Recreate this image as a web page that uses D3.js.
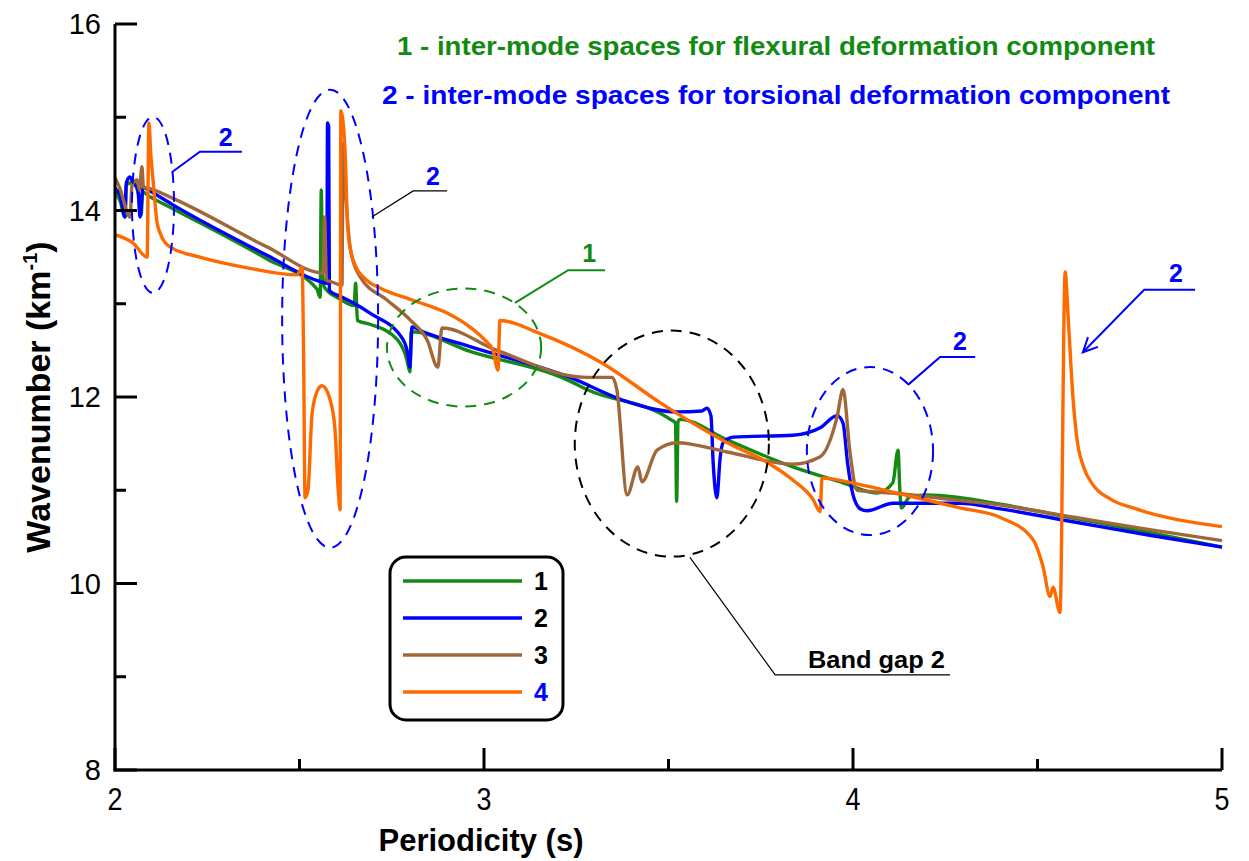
<!DOCTYPE html>
<html><head><meta charset="utf-8">
<script src="https://cdn.jsdelivr.net/npm/d3@7"></script>
<style>
html,body{margin:0;padding:0;background:#fff;}
svg{display:block;}
text{font-family:"Liberation Sans",Arial,sans-serif;}
</style></head>
<body>
<svg id="chart" width="1249" height="861"></svg>
<script>
// ---------- DATA (Periodicity s, Wavenumber km^-1) ----------
const seriesNames = ["1", "2", "3", "4"];
const seriesColors = ["#138a13", "#0000ff", "#a0683a", "#ff6a00"];
const xTicks = [2, 3, 4, 5];
const yTicks = [8, 10, 12, 14, 16];

const curve1 = [[2.000,14.20],[2.014,14.10],[2.027,13.93],[2.030,14.28],[2.050,14.30],[2.065,14.15],[2.071,13.95],[2.075,14.20],[2.090,14.16],[2.157,14.02],[2.412,13.48],[2.547,13.16],[2.556,13.07],[2.559,14.22],[2.562,13.4],[2.567,13.18],[2.610,13.05],[2.648,12.98],[2.652,13.22],[2.657,12.82],[2.691,12.78],[2.764,12.62],[2.791,12.40],[2.799,12.27],[2.803,12.70],[2.962,12.49],[3.233,12.17],[3.279,12.08],[3.505,11.76],[3.519,11.72],[3.522,10.88],[3.526,11.74],[3.531,11.76],[3.659,11.54],[3.837,11.25],[3.973,11.08],[4.065,10.97],[4.108,11.08],[4.122,11.43],[4.127,11.0],[4.131,10.81],[4.154,10.93],[4.200,10.95],[4.290,10.92],[4.400,10.85],[4.600,10.70],[4.800,10.55],[5.000,10.39]];

const curve2 = [[2.000,14.24],[2.014,14.16],[2.027,13.93],[2.031,14.30],[2.040,14.36],[2.049,14.30],[2.062,14.22],[2.068,13.93],[2.076,14.25],[2.090,14.22],[2.157,14.06],[2.412,13.52],[2.547,13.25],[2.574,13.22],[2.576,14.94],[2.579,14.90],[2.581,13.14],[2.610,13.08],[2.645,13.01],[2.691,12.90],[2.780,12.62],[2.794,12.45],[2.799,12.32],[2.805,12.75],[2.835,12.70],[2.962,12.54],[3.233,12.21],[3.388,11.95],[3.523,11.84],[3.590,11.85],[3.604,11.88],[3.615,11.80],[3.621,11.30],[3.631,10.92],[3.640,11.35],[3.648,11.51],[3.675,11.57],[3.837,11.59],[3.911,11.67],[3.957,11.80],[3.973,11.72],[3.985,11.30],[4.000,10.95],[4.020,10.80],[4.038,10.78],[4.108,10.86],[4.290,10.86],[4.400,10.80],[4.600,10.66],[4.800,10.52],[5.000,10.39]];

const curve3 = [[2.000,14.35],[2.012,14.25],[2.041,13.93],[2.046,14.27],[2.060,14.33],[2.066,14.22],[2.073,14.47],[2.077,14.25],[2.090,14.24],[2.157,14.13],[2.412,13.61],[2.564,13.33],[2.568,13.93],[2.573,13.25],[2.583,13.24],[2.615,13.20],[2.618,14.72],[2.625,14.20],[2.631,13.85],[2.637,13.61],[2.664,13.29],[2.737,13.04],[2.799,12.83],[2.846,12.61],[2.875,12.32],[2.886,12.74],[3.035,12.50],[3.279,12.21],[3.347,12.21],[3.360,12.08],[3.388,10.95],[3.417,11.25],[3.428,11.09],[3.469,11.43],[3.523,11.51],[3.659,11.41],[3.837,11.28],[3.911,11.36],[3.957,11.79],[3.973,12.08],[3.992,11.40],[4.011,11.00],[4.108,10.97],[4.290,10.89],[4.400,10.84],[4.600,10.71],[4.800,10.58],[5.000,10.46]];

const curve4 = [[2.000,13.74],[2.049,13.65],[2.087,13.50],[2.092,14.94],[2.097,14.60],[2.103,14.33],[2.114,13.87],[2.122,13.76],[2.149,13.61],[2.230,13.50],[2.366,13.38],[2.493,13.31],[2.507,13.39],[2.511,12.50],[2.515,10.92],[2.523,11.00],[2.534,11.82],[2.550,12.08],[2.561,12.12],[2.583,11.97],[2.596,11.66],[2.605,11.00],[2.610,10.79],[2.612,15.07],[2.623,14.68],[2.631,13.79],[2.645,13.47],[2.683,13.25],[2.718,13.17],[2.805,13.04],[2.900,12.90],[2.962,12.75],[3.000,12.62],[3.024,12.50],[3.038,12.29],[3.043,12.82],[3.152,12.68],[3.322,12.36],[3.477,11.94],[3.659,11.51],[3.767,11.30],[3.837,11.11],[3.892,10.90],[3.911,10.77],[3.916,11.13],[4.019,11.06],[4.108,10.98],[4.290,10.81],[4.398,10.71],[4.488,10.47],[4.515,10.18],[4.534,9.86],[4.542,9.96],[4.561,9.69],[4.575,13.34],[4.583,12.86],[4.596,12.00],[4.607,11.55],[4.625,11.25],[4.650,11.06],[4.700,10.90],[4.759,10.81],[5.000,10.61]];

const allCurves = [curve1, curve2, curve3, curve4];

// annotation shapes (data units): center x, center y, half-width (x units), half-height (y units), colour
const ellipses = [
  [2.103, 14.06, 0.057, 0.944, "#0000ff"],
  [2.583, 12.84, 0.130, 2.456, "#0000ff"],
  [2.946, 12.53, 0.209, 0.633, "#138a13"],
  [3.509, 11.50, 0.263, 1.212, "#000000"],
  [4.046, 11.42, 0.171, 0.901, "#0000ff"]
];
// leader polylines (data units) with label
const leaders = [
  {pts:[[2.154,14.41],[2.230,14.63],[2.344,14.63]], color:"#0000ff", w:2, label:"2", lx:2.300, ly:14.69, lc:"#0000ff"},
  {pts:[[2.696,13.93],[2.808,14.21],[2.900,14.21]], color:"#000000", w:1.2, label:"2", lx:2.862, ly:14.27, lc:"#0000ff"},
  {pts:[[3.084,13.01],[3.228,13.36],[3.328,13.36]], color:"#138a13", w:2, label:"1", lx:3.285, ly:13.45, lc:"#138a13"},
  {pts:[[3.558,10.28],[3.789,9.02],[4.263,9.02]], color:"#000000", w:1.2, label:"", lx:0, ly:0, lc:"#000"},
  {pts:[[4.149,12.13],[4.236,12.43],[4.331,12.43]], color:"#0000ff", w:2, label:"2", lx:4.290, ly:12.50, lc:"#0000ff"},
  {pts:[[4.927,13.15],[4.789,13.15],[4.623,12.48]], color:"#0000ff", w:2, label:"2", lx:4.875, ly:13.23, lc:"#0000ff", arrow:true}
];

// ---------- DRAW ----------
const svg = d3.select("#chart");
const x = d3.scaleLinear().domain([2,5]).range([115,1222]);
const y = d3.scaleLinear().domain([8,16]).range([770,24]);

// curves
const line = d3.line().x(d=>x(d[0])).y(d=>y(d[1])).curve(d3.curveMonotoneX);
const gCurves = svg.append("g");
allCurves.forEach((c,i)=>{
  gCurves.append("path").attr("d", line(c)).attr("fill","none")
    .attr("stroke", seriesColors[i]).attr("stroke-width", 3.4).attr("stroke-linejoin","round");
});

// ellipses
svg.append("g").selectAll("ellipse").data(ellipses).join("ellipse")
  .attr("cx", d=>x(d[0])).attr("cy", d=>y(d[1]))
  .attr("rx", d=>x(d[0]+d[2])-x(d[0])).attr("ry", d=>y(d[1]-d[3])-y(d[1]))
  .attr("fill","none").attr("stroke", d=>d[4]).attr("stroke-width",2)
  .attr("stroke-dasharray","11,8");

// leaders
const lg = svg.append("g");
const pl = d3.line().x(d=>x(d[0])).y(d=>y(d[1]));
leaders.forEach(L=>{
  lg.append("path").attr("d", pl(L.pts)).attr("fill","none").attr("stroke",L.color).attr("stroke-width",L.w);
  if (L.arrow){
    const a = L.pts[L.pts.length-2], b = L.pts[L.pts.length-1];
    const ax = x(a[0]), ay = y(a[1]), bx = x(b[0]), by = y(b[1]);
    const ang = Math.atan2(by-ay, bx-ax);
    const len = 16, sp = 0.45;
    const p1 = [bx - len*Math.cos(ang-sp), by - len*Math.sin(ang-sp)];
    const p2 = [bx - len*Math.cos(ang+sp), by - len*Math.sin(ang+sp)];
    lg.append("path").attr("d", `M${p1[0]},${p1[1]}L${bx},${by}L${p2[0]},${p2[1]}`)
      .attr("fill","none").attr("stroke",L.color).attr("stroke-width",2);
  }
  if (L.label){
    lg.append("text").attr("x", x(L.lx)).attr("y", y(L.ly)).attr("text-anchor","middle")
      .attr("font-size",25).attr("font-weight","bold").attr("fill",L.lc).text(L.label);
  }
});
lg.append("text").attr("x", x(3.878)).attr("y", y(9.09)).attr("font-size",23).attr("font-weight","bold")
  .attr("fill","#000").attr("textLength",137).attr("lengthAdjust","spacingAndGlyphs").text("Band gap 2");

// header notes
svg.append("text").attr("x",397).attr("y",55).attr("font-size",25).attr("font-weight","bold")
  .attr("fill","#138a13").attr("textLength",758).attr("lengthAdjust","spacingAndGlyphs")
  .text("1 - inter-mode spaces for flexural deformation component");
svg.append("text").attr("x",382).attr("y",104).attr("font-size",25).attr("font-weight","bold")
  .attr("fill","#0000ff").attr("textLength",788).attr("lengthAdjust","spacingAndGlyphs")
  .text("2 - inter-mode spaces for torsional deformation component");

// axes
const ax = svg.append("g");
ax.append("line").attr("x1",115).attr("x2",115).attr("y1",y(16)).attr("y2",y(8)+1.5).attr("stroke","#000").attr("stroke-width",3);
ax.append("line").attr("x1",115-1.5).attr("x2",x(5)).attr("y1",770).attr("y2",770).attr("stroke","#000").attr("stroke-width",3);
d3.range(8,16.01,1).forEach(v=>{
  const major = v%2===0;
  ax.append("line").attr("x1",115).attr("x2",115+(major?22:11)).attr("y1",y(v)).attr("y2",y(v))
    .attr("stroke","#000").attr("stroke-width",3);
});
d3.range(2,5.01,0.5).forEach(v=>{
  const major = Math.abs(v-Math.round(v))<1e-6;
  ax.append("line").attr("x1",x(v)).attr("x2",x(v)).attr("y1",770).attr("y2",770-(major?22:11))
    .attr("stroke","#000").attr("stroke-width",3);
});
yTicks.forEach(v=>{
  ax.append("text").attr("x",101).attr("y",y(v)+10).attr("text-anchor","end").attr("font-size",29).attr("fill","#000").text(v);
});
xTicks.forEach(v=>{
  ax.append("text").attr("x",x(v)).attr("y",810).attr("text-anchor","middle").attr("font-size",31)
    .attr("fill","#000").attr("textLength",15).attr("lengthAdjust","spacingAndGlyphs").text(v);
});
ax.append("text").attr("x",481).attr("y",851).attr("text-anchor","middle").attr("font-size",31).attr("font-weight","bold")
  .attr("textLength",205).attr("lengthAdjust","spacingAndGlyphs").text("Periodicity (s)");
const yt = ax.append("text").attr("transform","translate(50,397) rotate(-90)").attr("text-anchor","middle")
  .attr("font-size",34).attr("font-weight","bold");
yt.append("tspan").text("Wavenumber (km");
yt.append("tspan").attr("font-size",20).attr("dy",-13).text("-1");
yt.append("tspan").attr("dy",13).text(")");

// legend
const lgd = svg.append("g");
lgd.append("rect").attr("x",390).attr("y",557).attr("width",173).attr("height",163).attr("rx",16)
  .attr("fill","#fff").attr("stroke","#000").attr("stroke-width",3);
seriesNames.forEach((n,i)=>{
  const yy = 581 + i*37;
  lgd.append("line").attr("x1",403).attr("x2",522).attr("y1",yy).attr("y2",yy).attr("stroke",seriesColors[i]).attr("stroke-width",3.4);
  lgd.append("text").attr("x",541).attr("y",yy+9).attr("text-anchor","middle").attr("font-size",25).attr("font-weight","bold")
    .attr("fill", i===3 ? "#0000ff" : "#000").text(n);
});
</script>
</body></html>
